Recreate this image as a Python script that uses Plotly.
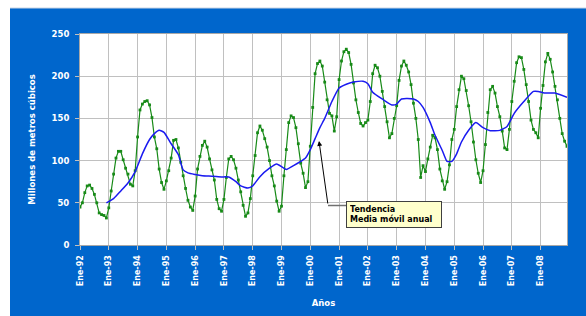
import plotly.graph_objects as go

# ---------------- data ----------------
MESES = ["Ene", "Feb", "Mar", "Abr", "May", "Jun", "Jul", "Ago", "Sep", "Oct", "Nov", "Dic"]
YEARS = list(range(1992, 2009))

y1992 = [45, 50, 62, 70, 71, 67, 60, 50, 38, 36, 35, 32]
y1993 = [44, 64, 84, 103, 111, 111, 101, 91, 84, 72, 70, 88]
y1994 = [128, 160, 167, 170, 171, 166, 151, 128, 114, 90, 74, 66]
y1995 = [76, 88, 103, 124, 125, 115, 98, 82, 67, 53, 45, 41]
y1996 = [58, 90, 105, 118, 123, 116, 102, 89, 77, 54, 43, 40]
y1997 = [54, 80, 102, 105, 101, 91, 77, 63, 47, 34, 38, 55]
y1998 = [82, 106, 133, 141, 136, 126, 116, 100, 82, 70, 52, 40]
y1999 = [46, 82, 113, 145, 153, 151, 139, 120, 97, 85, 68, 75]
y2000 = [117, 163, 203, 215, 218, 212, 193, 172, 156, 153, 135, 152]
y2001 = [196, 218, 229, 232, 228, 214, 192, 172, 157, 144, 141, 145]
y2002 = [148, 170, 203, 213, 210, 200, 182, 164, 146, 127, 132, 150]
y2003 = [165, 195, 212, 218, 213, 205, 190, 168, 150, 125, 80, 94]
y2004 = [87, 102, 116, 130, 127, 113, 90, 76, 66, 75, 95, 125]
y2005 = [137, 164, 184, 200, 197, 183, 165, 146, 122, 101, 85, 74]
y2006 = [88, 119, 157, 184, 188, 180, 164, 152, 135, 115, 113, 137]
y2007 = [170, 194, 216, 223, 222, 208, 190, 170, 148, 137, 133, 127]
y2008 = [162, 189, 217, 227, 220, 205, 188, 172, 150, 132, 123, 117]

# trend line ("Media móvil anual")
trend_months = ["Dic-92", "Mar-93", "Jun-93", "Sep-93", "Dic-93", "Mar-94", "Jun-94", "Ago-94",
                "Oct-94", "Dic-94", "Mar-95", "Jun-95", "Ago-95", "Oct-95", "Ene-96", "Abr-96",
                "Ago-96", "Dic-96", "Mar-97", "Jun-97", "Ago-97", "Nov-97", "Ene-98", "Abr-98",
                "Ago-98", "Nov-98", "Mar-99", "Jun-99", "Sep-99", "Nov-99", "Ene-00", "Mar-00",
                "May-00", "Jul-00", "Oct-00", "Ene-01", "Abr-01", "Jul-01", "Nov-01", "Ene-02",
                "Mar-02", "Jul-02", "Nov-02", "Ene-03", "Mar-03", "Ago-03", "Oct-03", "Dic-03",
                "Mar-04", "May-04", "Ago-04", "Oct-04", "Dic-04", "Feb-05", "Abr-05", "Jul-05",
                "Oct-05", "Ene-06", "Abr-06", "Ago-06", "Nov-06", "Feb-07", "Jun-07", "Oct-07",
                "Dic-07", "Mar-08", "Jul-08", "Dic-08"]
trend_values = [50, 55, 64, 73.5, 87, 108, 125, 132, 136, 133.5, 120, 107, 89, 85.5, 83.5, 82,
                81.5, 80.7, 80.5, 75, 70, 67.5, 70, 81, 91, 96, 89.5, 94, 99, 103, 113, 126,
                139, 150, 170, 186, 190.5, 193, 194, 191, 181, 173, 166, 167, 173, 173, 170, 163,
                145, 130, 112, 99, 99, 108, 122, 136, 145, 139, 135.5, 135.8, 140.5, 156, 170, 182,
                182, 180, 180, 175]

# ---------------- derived lists ----------------
months = [f"{m}-{str(y)[2:]}" for y in YEARS for m in MESES]
values = (y1992 + y1993 + y1994 + y1995 + y1996 + y1997 + y1998 + y1999 + y2000 +
          y2001 + y2002 + y2003 + y2004 + y2005 + y2006 + y2007 + y2008)
year_ticks = [f"Ene-{str(y)[2:]}" for y in YEARS]

# ---------------- figure ----------------
# page margin is removed (see post_script), so figure pixels == page pixels
W, H = 600, 330
L, T = 80, 34
PW, PH = 487, 211
R, B = W - L - PW, H - T - PH


def px(xp):  # page pixel -> paper x
    return (xp - L) / PW


def py(yp):  # page pixel -> paper y
    return (T + PH - yp) / PH


FONT = "DejaVu Sans"
BLUE_BG = "#0066CC"
GREEN = "#178A17"
TREND = "#1A1AF0"

fig = go.Figure()
fig.add_trace(go.Scatter(
    x=months, y=values, mode="lines+markers",
    line=dict(color=GREEN, width=1.2),
    marker=dict(size=2.8, symbol="square", color=GREEN),
    hoverinfo="x+y", showlegend=False))
fig.add_trace(go.Scatter(
    x=trend_months, y=trend_values, mode="lines",
    line=dict(color=TREND, width=1.5, shape="spline", smoothing=0.5),
    hoverinfo="x+y", showlegend=False))

fig.update_layout(
    width=W, height=H,
    margin=dict(l=L, r=R, t=T, b=B, pad=0),
    paper_bgcolor=BLUE_BG, plot_bgcolor="white",
    showlegend=False,
    xaxis=dict(
        type="category", categoryorder="array", categoryarray=months,
        range=[0, len(months) - 1],
        tickmode="array", tickvals=year_ticks, ticktext=year_ticks,
        tickangle=-90, tickfont=dict(family=FONT, size=8, color="white", weight="bold"),
        ticklabelstandoff=2,
        showgrid=True, gridcolor="#C0C0C0", gridwidth=1,
        ticks="outside", ticklen=4, tickcolor="#C0C0C0",
        showline=True, linecolor="#A8A8A8", linewidth=1, mirror=True,
        zeroline=False,
        title=dict(text="Años", font=dict(family=FONT, size=8.5, color="white", weight="bold"),
                   standoff=14),
    ),
    yaxis=dict(
        range=[0, 250], tick0=0, dtick=50,
        tickfont=dict(family=FONT, size=8.5, color="white", weight="bold"),
        ticklabelstandoff=4,
        showgrid=True, gridcolor="#C0C0C0", gridwidth=1,
        ticks="outside", ticklen=4, tickcolor="#C0C0C0",
        showline=True, linecolor="#A8A8A8", linewidth=1, mirror=True,
        zeroline=False,
        title=dict(text="Millones de metros cúbicos",
                   font=dict(family=FONT, size=8.5, color="white", weight="bold"),
                   standoff=14),
    ),
    shapes=[
        # white strips outside the blue frame (left and top)
        dict(type="rect", xref="paper", yref="paper", layer="below",
             x0=px(0), x1=px(10), y0=py(H), y1=py(0),
             fillcolor="white", line=dict(width=0)),
        dict(type="rect", xref="paper", yref="paper", layer="below",
             x0=px(0), x1=px(W), y0=py(8), y1=py(0),
             fillcolor="white", line=dict(width=0)),
        dict(type="line", xref="paper", yref="paper",
             x0=px(10), x1=px(W), y0=py(8), y1=py(8),
             line=dict(color="#C8D4E4", width=1)),
        # elbow of the callout connector
        dict(type="line", xref="paper", yref="paper",
             x0=px(328), x1=px(346), y0=py(205.5), y1=py(205.5),
             line=dict(color="#707070", width=1.5)),
    ],
    annotations=[
        dict(xref="paper", yref="paper", x=px(394), y=py(214),
             xanchor="center", yanchor="middle", showarrow=False,
             text="Tendencia<br>Media móvil anual", align="left",
             font=dict(family=FONT, size=8, color="black", weight="bold"),
             bgcolor="#FFFFCC", bordercolor="#404040", borderwidth=1, borderpad=3,
             width=88),
        dict(xref="paper", yref="paper", x=px(319), y=py(141),
             text="", showarrow=True, ax=9, ay=64,
             arrowhead=2, arrowsize=1, arrowwidth=1, arrowcolor="black"),
    ],
)

fig.write_html(
    "out.html",
    config={"displayModeBar": False},
    post_script="document.body.style.margin='0';"
                "document.documentElement.style.overflow='hidden';"
                "document.body.style.overflow='hidden';",
)
